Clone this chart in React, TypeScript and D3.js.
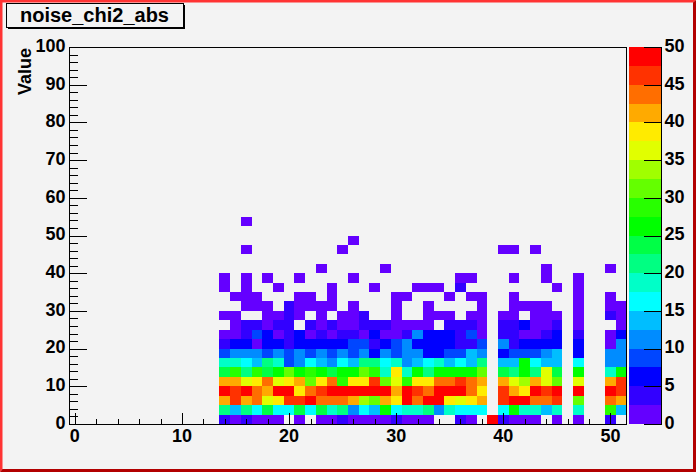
import React from "react";
import * as d3 from "d3";

const title = "noise_chi2_abs";
const yLabel = "Value";
const firstCol = 14;
// counts for columns 14..51, one list per y bin
const row0 = [3,1,3,1,1,1,0,1,0,1,1,3,1,1,1,1,3,1,1,1,0,0,3,1,0,48,3,1,1,1,0,1,0,1,0,0,3,0];
const row1 = [21,13,21,16,23,16,16,23,16,23,18,21,11,16,13,26,16,18,18,21,11,18,16,16,16,0,16,26,18,18,13,18,0,18,0,0,28,13];
const row2 = [41,46,41,43,36,38,46,46,48,43,43,43,41,33,31,41,38,48,43,48,48,38,36,38,41,0,46,48,48,43,43,46,0,31,0,0,43,41];
const row3 = [48,46,48,43,41,48,48,38,43,46,48,48,48,48,48,48,41,48,46,43,48,48,48,43,38,0,46,41,38,48,46,48,0,48,0,0,48,46];
const row4 = [41,41,36,38,43,36,38,41,31,38,43,28,38,38,46,31,36,28,38,38,43,43,46,43,41,0,41,36,33,41,36,31,0,36,0,0,41,46];
const row5 = [23,28,21,28,23,26,31,26,28,26,23,26,26,31,28,18,38,18,26,21,26,26,26,26,31,0,23,21,26,21,36,23,0,26,0,0,18,26];
const row6 = [18,18,16,13,21,18,8,11,16,13,11,16,13,21,21,16,18,11,13,16,18,13,16,13,21,0,13,13,26,16,13,13,0,16,0,0,11,11];
const row7 = [8,11,11,11,8,11,8,11,8,11,8,11,8,11,6,11,8,11,11,6,6,8,8,13,11,0,6,8,8,8,11,13,0,6,0,0,11,11];
const row8 = [3,6,6,1,6,6,3,6,6,6,6,6,8,8,3,6,8,11,6,6,6,6,3,3,8,0,11,3,6,6,6,6,0,6,0,0,1,11];
const row9 = [1,1,3,8,6,1,3,6,1,3,1,3,3,1,6,1,1,3,11,6,6,6,3,8,1,0,3,3,1,1,3,6,0,3,0,0,1,6];
const row10 = [0,1,3,3,1,3,3,0,3,1,3,1,1,3,3,3,1,1,1,1,0,3,3,3,1,0,3,3,6,1,1,3,0,1,0,0,0,1];
const row11 = [1,1,0,0,1,1,3,1,0,1,0,1,1,3,0,0,1,0,0,1,1,1,0,1,1,0,1,1,0,1,1,1,0,1,0,0,3,1];
const denseRows = [row0,row1,row2,row3,row4,row5,row6,row7,row8,row9,row10,row11];
// sparse upper rows: occupied columns
const row12Cols = [16,17,18,20,21,22,23,24,26,30,33,38,41,42,43,44,47,50,51];
const row13Cols = [15,16,17,21,22,24,30,31,35,37,38,41,47,50];
const row14Cols = [14,16,19,24,28,32,33,34,36,45,47];
const row15Cols = [14,16,18,21,26,36,37,41,44,47];
const row16Cols = [23,29,44,50];
const row18Cols = [16,25,40,41,43];
const row19Cols = [26];
const row21Cols = [16];
const sparseRows: [number, number[]][] = [[12,row12Cols],[13,row13Cols],[14,row14Cols],[15,row15Cols],[16,row16Cols],[18,row18Cols],[19,row19Cols],[21,row21Cols]];
// cells of the sparse rows whose count is above the lowest band: [row, col]
const sparseHigher = ["12:20","14:36"];

const paletteColors = ["#6400ff","#3200ff","#0000ff","#0046ff","#008cff","#00beff","#00ffff","#00ffc8","#00ff82","#00ff46","#00ff00","#28ff00","#64ff00","#a0ff00","#e1ff00","#ffeb00","#ffaa00","#ff6e00","#ff3200","#ff0000"];
const xTicks = [0,10,20,30,40,50];
const yTicks = [0,10,20,30,40,50,60,70,80,90,100];
const zTicks = [0,5,10,15,20,25,30,35,40,45,50];

const W = 696, H = 472;
const frame = { l: 69.5, r: 626.5, t: 47, b: 424 };
const pal = { l: 629, r: 661.5 };
const font = "'Liberation Sans', Arial, sans-serif";

export default function App() {
  const x = d3.scaleLinear().domain([-0.5, 51.5]).range([frame.l, frame.r]);
  const y = d3.scaleLinear().domain([0, 100]).range([frame.b, frame.t]);
  const z = d3.scaleLinear().domain([0, 50]).range([frame.b, frame.t]);
  const color = d3.scaleQuantize<string>().domain([0, 50]).range(paletteColors);

  const cells: { c: number; r: number; v: number }[] = [];
  denseRows.forEach((vals, r) => vals.forEach((v, i) => { if (v > 0) cells.push({ c: firstCol + i, r, v }); }));
  sparseRows.forEach(([r, cols]) => cols.forEach((c) => cells.push({ c, r, v: sparseHigher.includes(`${r}:${c}`) ? 3 : 1 })));

  const xMinor = d3.range(0, 52, 2);
  const yMinor = d3.range(0, 101, 2);
  const bandW = 2.5;

  return (
    <svg width={W} height={H} viewBox={`0 0 ${W} ${H}`} style={{ position: "fixed", left: 0, top: 0, display: "block" }} fontFamily={font} fontWeight="bold">
      <rect x={0} y={0} width={W} height={H} fill="#f3f3f3" />
      {/* canvas bevel */}
      <polygon points={`0,0 ${W},0 ${W - 3},2.5 2.5,2.5 2.5,${H - 3} 0,${H}`} fill="#ff3333" />
      <polygon points={`${W},0 ${W},${H} 0,${H} 2.5,${H - 3} ${W - 3},${H - 3} ${W - 3},2.5`} fill="#b20000" />

      {/* heat cells */}
      <g shapeRendering="crispEdges">
        {cells.map((d) => (
          <rect key={`${d.c}-${d.r}`} x={x(d.c - 0.5)} y={y((d.r + 1) * bandW)} width={x(d.c + 0.5) - x(d.c - 0.5)} height={y(d.r * bandW) - y((d.r + 1) * bandW)} fill={color(d.v)} />
        ))}
      </g>

      {/* frame */}
      <rect x={frame.l} y={frame.t + 0.5} width={frame.r - frame.l} height={frame.b - frame.t} fill="none" stroke="#000" strokeWidth={1} />

      {/* axes ticks */}
      <g stroke="#000" strokeWidth={1} shapeRendering="crispEdges">
        {xMinor.map((t) => {
          const major = t % 10 === 0;
          return <line key={t} x1={Math.round(x(t)) + 0.5} x2={Math.round(x(t)) + 0.5} y1={frame.b} y2={frame.b - (major ? 11 : 5.5)} />;
        })}
        {yMinor.map((t) => {
          const major = t % 10 === 0;
          return <line key={t} y1={Math.round(y(t)) + 0.5} y2={Math.round(y(t)) + 0.5} x1={frame.l} x2={frame.l + (major ? 17 : 8.5)} />;
        })}
      </g>
      <g fontSize={18} fill="#000">
        {xTicks.map((t) => (
          <text key={t} x={x(t)} y={442} textAnchor="middle">{t}</text>
        ))}
        {yTicks.map((t) => (
          <text key={t} x={65.5} y={y(t) + 4.8} textAnchor="end">{t}</text>
        ))}
        <text transform="translate(30.5,95) rotate(-90)" textAnchor="start">{yLabel}</text>
      </g>

      {/* palette */}
      <g shapeRendering="crispEdges">
        {paletteColors.map((c, i) => (
          <rect key={c} x={pal.l} width={pal.r - pal.l} y={z((i + 1) * 2.5)} height={z(i * 2.5) - z((i + 1) * 2.5)} fill={c} />
        ))}
        <line x1={pal.r} x2={pal.r} y1={frame.t} y2={frame.b} stroke="#000" />
        {zTicks.map((t) => (
          <line key={t} x1={644} x2={pal.r} y1={Math.round(z(t)) + 0.5} y2={Math.round(z(t)) + 0.5} stroke="#000" />
        ))}
      </g>
      <g fontSize={18} fill="#000">
        {zTicks.map((t) => (
          <text key={t} x={664.5} y={z(t) + 4.8}>{t}</text>
        ))}
      </g>

      {/* title box */}
      <rect x={8} y={5} width={177} height={24} fill="#000" />
      <rect x={6.5} y={3.5} width={177} height={24} fill="#f3f3f3" stroke="#000" />
      <text x={20} y={22} fontSize={20} fill="#000">{title}</text>
    </svg>
  );
}
